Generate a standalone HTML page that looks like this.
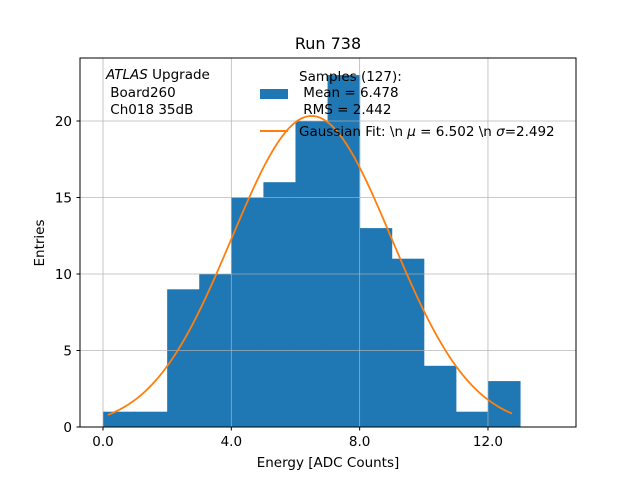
<!DOCTYPE html>
<html><head><meta charset="utf-8"><style>
body{margin:0;background:#fff}
svg{font-family:"DejaVu Sans","Liberation Sans",sans-serif}
svg text{white-space:pre}
</style></head><body>
<svg id="chart" width="640" height="480" xmlns="http://www.w3.org/2000/svg">
<rect width="640" height="480" fill="#fff"/>
<g id="bars"></g><g id="grid"></g><g id="fit"></g><g id="ticks"></g>
<rect x="80" y="58" width="496" height="369" fill="none" stroke="#000" stroke-width="1"/>
<text x="328" y="49" text-anchor="middle" font-size="16">Run 738</text>
<text x="328" y="467" text-anchor="middle" font-size="13.5">Energy [ADC Counts]</text>
<text transform="translate(44,243) rotate(-90)" text-anchor="middle" font-size="13.5">Entries</text>
<g font-size="13.5">
<text x="106" y="79"><tspan font-style="italic">ATLAS</tspan> Upgrade</text>
<text x="106" y="97"> Board260</text>
<text x="106" y="114"> Ch018 35dB</text>
</g>
<g font-size="13.5">
<rect x="260" y="89" width="28" height="10" fill="#1f77b4"/>
<text x="299" y="81">Samples (127):</text>
<text x="299" y="97"> Mean = 6.478</text>
<text x="299" y="114"> RMS = 2.442</text>
<line x1="260" y1="131" x2="288" y2="131" stroke="#ff7f0e" stroke-width="2"/>
<text x="299" y="136">Gaussian Fit: \n <tspan font-style="italic">μ</tspan> = 6.502 \n <tspan font-style="italic">σ</tspan>=2.492</text>
</g>
</svg>
<script>
const binEdges=[0,1,2,3,4,5,6,7,8,9,10,11,12];
const counts=[1,1,9,10,15,16,20,23,13,11,4,1,3];
const xTicks=[0,4,8,12];
const xTickLabels=["0.0","4.0","8.0","12.0"];
const yTicks=[0,5,10,15,20];
const yTickLabels=["0","5","10","15","20"];
const fitMu=6.502, fitSigma=2.492, fitN=127, fitRange=[0.15,12.75];
const NS="http://www.w3.org/2000/svg";
const sx=v=>103+v*32.08, sy=v=>427-v*15.3;
function mk(t,a,p){const e=document.createElementNS(NS,t);for(const k in a)e.setAttribute(k,a[k]);p.appendChild(e);return e;}
const bars=document.getElementById('bars');
counts.forEach((c,i)=>{const x0=sx(binEdges[i]),x1=sx(binEdges[i]+1);
const r=mk('rect',{x:x0,y:sy(c),width:x1-x0+0.5,height:sy(0)-sy(c),fill:'#1f77b4'},bars);

});
const grid=document.getElementById('grid'),ticks=document.getElementById('ticks');
xTicks.forEach((v,i)=>{const l=mk('line',{x1:sx(v),x2:sx(v),y1:58,y2:427,stroke:'#b0b0b0','stroke-width':0.8,'stroke-opacity':0.9},grid);

mk('line',{x1:sx(v),x2:sx(v),y1:427,y2:430.5,stroke:'#000'},ticks);
const t=mk('text',{x:sx(v),y:446,'text-anchor':'middle','font-size':13.5},ticks);t.textContent=xTickLabels[i];
});
yTicks.forEach((v,i)=>{const l=mk('line',{x1:80,x2:576,y1:sy(v),y2:sy(v),stroke:'#b0b0b0','stroke-width':0.8,'stroke-opacity':0.9},grid);

mk('line',{x1:76.5,x2:80,y1:sy(v),y2:sy(v),stroke:'#000'},ticks);
const t=mk('text',{x:72,y:sy(v)+5,'text-anchor':'end','font-size':13.5},ticks);t.textContent=yTickLabels[i];
});
const A=fitN/(Math.sqrt(2*Math.PI)*fitSigma);let d='';
for(let k=0;k<=100;k++){const x=fitRange[0]+(fitRange[1]-fitRange[0])*k/100;const y=A*Math.exp(-((x-fitMu)**2)/(2*fitSigma**2));d+=(k?'L':'M')+sx(x).toFixed(2)+' '+sy(y).toFixed(2);}
const p=mk('path',{d:d,fill:'none',stroke:'#ff7f0e','stroke-width':1.8},document.getElementById('fit'));


</script>
</body></html>
